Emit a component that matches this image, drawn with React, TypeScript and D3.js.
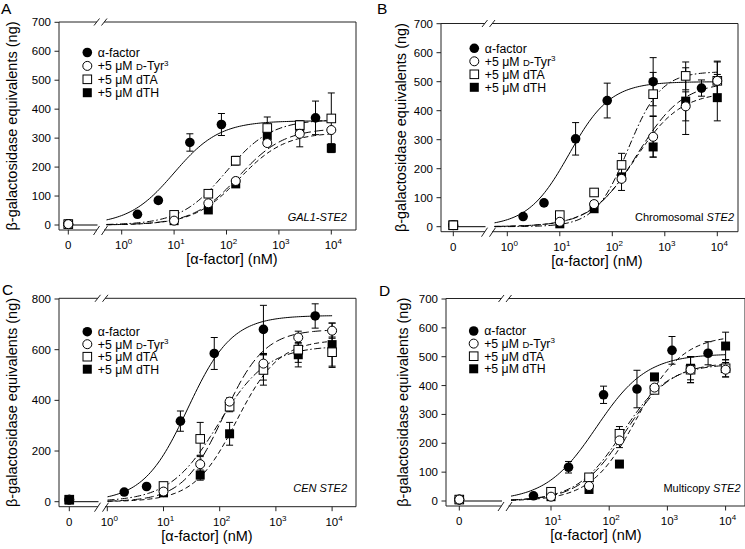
import React from "react";
import * as d3 from "d3";

// ---------- DATA ----------
const CONC_ANTAG = [0, 10, 45, 150, 600, 2500, 10000];

// Panel A (GAL1-STE2)
const A_ALPHA_X = [0, 2, 5, 20, 80, 5000];
const A_ALPHA_Y = [3, 37, 85, 285, 347, 370];
const A_ALPHA_E = [0, 0, 10, 30, 38, 58];
const A_DTYR_Y = [3, 15, 75, 152, 283, 315, 328];
const A_DTYR_E = [0, 0, 0, 10, 10, 45, 0];
const A_DTA_Y = [3, 35, 108, 222, 335, 345, 368];
const A_DTA_E = [0, 0, 8, 15, 38, 15, 88];
const A_DTH_Y = [3, 15, 52, 142, 308, 338, 265];
const A_DTH_E = [0, 0, 0, 8, 15, 15, 15];
// fit parameters [top, EC50, hill]
const A_FITS = [[360, 10, 1], [335, 170, 1], [365, 97, 1], [320, 175, 1]];

// Panel B (Chromosomal STE2)
const B_ALPHA_X = [0, 2, 5, 20, 80, 600, 5000];
const B_ALPHA_Y = [5, 35, 82, 303, 435, 500, 478];
const B_ALPHA_E = [0, 0, 8, 56, 60, 83, 28];
const B_DTYR_Y = [5, 17, 78, 165, 310, 415, 503];
const B_DTYR_E = [0, 0, 10, 40, 70, 50, 65];
const B_DTA_Y = [5, 40, 118, 213, 457, 520, 503];
const B_DTA_E = [0, 5, 12, 40, 75, 48, 68];
const B_DTH_Y = [5, 10, 62, 172, 275, 433, 445];
const B_DTH_E = [0, 0, 8, 10, 35, 115, 80];
const B_FITS = [[500, 15, 1.1], [500, 300, 1], [535, 200, 1.4], [465, 270, 1]];

// Panel C (CEN STE2)
const C_ALPHA_X = [0, 2, 5, 20, 80, 600, 5000];
const C_ALPHA_Y = [8, 38, 60, 318, 585, 680, 733];
const C_ALPHA_E = [0, 0, 0, 40, 63, 95, 48];
const C_DTYR_Y = [8, 40, 148, 395, 545, 648, 675];
const C_DTYR_E = [0, 0, 30, 15, 40, 25, 30];
const C_DTA_Y = [8, 62, 248, 375, 520, 600, 590];
const C_DTA_E = [0, 0, 65, 20, 60, 50, 60];
const C_DTH_Y = [8, 35, 105, 268, 530, 580, 620];
const C_DTH_E = [0, 0, 20, 45, 50, 48, 85];
const C_FITS = [[735, 27, 1.1], [680, 118, 1.2], [615, 95, 1], [640, 200, 1.15]];

// Panel D (Multicopy STE2)
const D_ALPHA_X = [0, 5, 20, 80, 300, 1200, 5000];
const D_ALPHA_Y = [5, 18, 117, 368, 388, 522, 512];
const D_ALPHA_E = [0, 0, 20, 30, 65, 48, 40];
const D_DTYR_Y = [5, 15, 52, 210, 393, 455, 455];
const D_DTYR_E = [0, 0, 0, 25, 10, 45, 25];
const D_DTA_Y = [5, 32, 82, 233, 385, 455, 460];
const D_DTA_E = [0, 0, 0, 25, 10, 45, 30];
const D_DTH_Y = [5, 15, 40, 128, 430, 460, 537];
const D_DTH_E = [0, 0, 0, 10, 10, 40, 48];
const D_FITS = [[510, 60, 1], [480, 190, 1.1], [475, 170, 1.1], [575, 300, 1.1]];

const LEGEND_LABELS = ["α-factor", "+5 μM D-Tyr3", "+5 μM dTA", "+5 μM dTH"];
const Y_TITLE = "β-galactosidase equivalents (ng)";
const X_TITLE = "[α-factor] (nM)";

// ---------- LAYOUT ----------
const FONT = "'Liberation Sans', Arial, Helvetica, sans-serif";
const MARKERS = ["filledCircle", "openCircle", "openSquare", "filledSquare"];
const DASHES = [null, "9,3.5", "7,2.5,1.5,2.5", "5,3"];

type PanelCfg = any;

const PANELS: PanelCfg[] = [
  {
    letter: "A", lx: 1, ly: 14,
    left: 59, right: 356, top: 22, bottom: 230,
    y0px: 225, yRefVal: 700, yRefPx: 22.3, yTicks: d3.range(0, 701, 100),
    dec0: 121.7, decW: 52.4, xTicks: [1, 10, 100, 1000, 10000],
    zeroX: 68.3, breakX: 100.5,
    legX: 87.3, legY: 52.5, legStep: 13.4,
    yTitleX: 12, xTitleX: 232, annot: [["GAL1-STE2", true]], annotX: 347, annotY: 221,
    zeroTop: 1,
    alpha: [A_ALPHA_X, A_ALPHA_Y, A_ALPHA_E],
    series: [[A_DTYR_Y, A_DTYR_E], [A_DTA_Y, A_DTA_E], [A_DTH_Y, A_DTH_E]],
    fits: A_FITS,
  },
  {
    letter: "B", lx: 377, ly: 14,
    left: 441, right: 738, top: 23.5, bottom: 231.7,
    y0px: 226.7, yRefVal: 700, yRefPx: 23.7, yTicks: d3.range(0, 701, 100),
    dec0: 507.3, decW: 52.5, xTicks: [1, 10, 100, 1000, 10000],
    zeroX: 453.3, breakX: 488.5,
    legX: 474.3, legY: 48.3, legStep: 13,
    yTitleX: 401, xTitleX: 597, annot: [["Chromosomal ", false], ["STE2", true]], annotX: 734, annotY: 221,
    zeroTop: 2,
    alpha: [B_ALPHA_X, B_ALPHA_Y, B_ALPHA_E],
    series: [[B_DTYR_Y, B_DTYR_E], [B_DTA_Y, B_DTA_E], [B_DTH_Y, B_DTH_E]],
    fits: B_FITS,
  },
  {
    letter: "C", lx: 2, ly: 295,
    left: 59, right: 356, top: 298.3, bottom: 506.7,
    y0px: 501.7, yRefVal: 800, yRefPx: 299, yTicks: d3.range(0, 801, 200),
    dec0: 107.3, decW: 56.2, xTicks: [1, 10, 100, 1000, 10000],
    zeroX: 69.3, breakX: 101.5,
    legX: 87.3, legY: 331.7, legStep: 12.5,
    yTitleX: 12, xTitleX: 207, annot: [["CEN STE2", true]], annotX: 347, annotY: 492,
    zeroTop: 3,
    alpha: [C_ALPHA_X, C_ALPHA_Y, C_ALPHA_E],
    series: [[C_DTYR_Y, C_DTYR_E], [C_DTA_Y, C_DTA_E], [C_DTH_Y, C_DTH_E]],
    fits: C_FITS,
  },
  {
    letter: "D", lx: 379, ly: 296,
    left: 446, right: 745, top: 298.5, bottom: 506,
    y0px: 501, yRefVal: 700, yRefPx: 299, yTicks: d3.range(0, 701, 100),
    dec0: 492.8, decW: 58.2, xTicks: [10, 100, 1000, 10000],
    zeroX: 459.3, breakX: 505,
    legX: 473.7, legY: 331, legStep: 12.6,
    yTitleX: 403, xTitleX: 596, annot: [["Multicopy ", false], ["STE2", true]], annotX: 740.5, annotY: 492,
    zeroTop: 1,
    alpha: [D_ALPHA_X, D_ALPHA_Y, D_ALPHA_E],
    series: [[D_DTYR_Y, D_DTYR_E], [D_DTA_Y, D_DTA_E], [D_DTH_Y, D_DTH_E]],
    fits: D_FITS,
  },
];

function Marker({ kind, x, y }: { kind: string; x: number; y: number }) {
  if (kind === "filledCircle") return <circle cx={x} cy={y} r={4.8} fill="#000" />;
  if (kind === "openCircle") return <circle cx={x} cy={y} r={4.5} fill="#fff" stroke="#000" strokeWidth={1} />;
  if (kind === "openSquare") return <rect x={x - 4.3} y={y - 4.3} width={8.6} height={8.6} fill="#fff" stroke="#000" strokeWidth={1} />;
  return <rect x={x - 4.5} y={y - 4.5} width={9} height={9} fill="#000" />;
}

function Panel({ cfg }: { cfg: PanelCfg }) {
  const y = d3.scaleLinear().domain([0, cfg.yRefVal]).range([cfg.y0px, cfg.yRefPx]);
  const xl = d3.scaleLog().domain([1, 10000]).range([cfg.dec0, cfg.dec0 + 4 * cfg.decW]);
  const xOf = (v: number) => (v === 0 ? cfg.zeroX : xl(v));
  const b = cfg.breakX;
  const gap = 3.5;

  const all = [
    cfg.alpha,
    [CONC_ANTAG, cfg.series[0][0], cfg.series[0][1]],
    [CONC_ANTAG, cfg.series[1][0], cfg.series[1][1]],
    [CONC_ANTAG, cfg.series[2][0], cfg.series[2][1]],
  ];
  const drawOrder = [0, 3, 2, 1];

  const cStart = xl.invert(b + 6);
  const curves = cfg.fits.map((f: number[], i: number) => {
    const [top, ec, n] = f;
    const lo = Math.log10(cStart), hi = 4;
    const pts = d3.range(0, 121).map((k) => {
      const xv = Math.pow(10, lo + (hi - lo) * (k / 120));
      return [xl(xv), y(top / (1 + Math.pow(ec / xv, n)))] as [number, number];
    });
    return { d: d3.line()(pts)!, dash: DASHES[i] };
  });

  const tickLen = 4.5;
  const textStyle = { fontFamily: FONT, fill: "#000" } as any;

  return (
    <g>
      <text x={cfg.lx} y={cfg.ly} fontSize={15.5} style={textStyle}>{cfg.letter}</text>

      <g stroke="#222" strokeWidth={1} fill="none">
        <line x1={cfg.left} y1={cfg.top} x2={cfg.left} y2={cfg.bottom} />
        <line x1={cfg.right} y1={cfg.top} x2={cfg.right} y2={cfg.bottom} />
        <line x1={cfg.left} y1={cfg.top} x2={b - gap} y2={cfg.top} />
        <line x1={b + gap} y1={cfg.top} x2={cfg.right} y2={cfg.top} />
        <line x1={cfg.left} y1={cfg.bottom} x2={b - gap} y2={cfg.bottom} />
        <line x1={b + gap} y1={cfg.bottom} x2={cfg.right} y2={cfg.bottom} />
        <line x1={b - 6.5} y1={cfg.top + 3.5} x2={b - 1} y2={cfg.top - 3.5} />
        <line x1={b + 1} y1={cfg.top + 3.5} x2={b + 6.5} y2={cfg.top - 3.5} />
        <line x1={b - 7} y1={cfg.bottom + 5} x2={b - 1} y2={cfg.bottom - 4} />
        <line x1={b + 1} y1={cfg.bottom + 5} x2={b + 7} y2={cfg.bottom - 4} />
      </g>

      {cfg.yTicks.map((t: number) => (
        <g key={"yt" + t}>
          <line x1={cfg.left - tickLen} x2={cfg.left} y1={y(t)} y2={y(t)} stroke="#222" strokeWidth={1} />
          <text x={cfg.left - 8} y={y(t) + 4} textAnchor="end" fontSize={11.5} style={textStyle}>{t}</text>
        </g>
      ))}

      <line x1={cfg.zeroX} x2={cfg.zeroX} y1={cfg.bottom} y2={cfg.bottom + tickLen} stroke="#222" strokeWidth={1} />
      <text x={cfg.zeroX} y={cfg.bottom + 19} textAnchor="middle" fontSize={11.5} style={textStyle}>0</text>
      {cfg.xTicks.map((t: number) => (
        <g key={"xt" + t}>
          <line x1={xl(t)} x2={xl(t)} y1={cfg.bottom} y2={cfg.bottom + tickLen} stroke="#222" strokeWidth={1} />
          <text x={xl(t) + 2} y={cfg.bottom + 19} textAnchor="middle" fontSize={11.5} style={textStyle}>
            10<tspan dy={-5} fontSize={8}>{Math.round(Math.log10(t))}</tspan>
          </text>
        </g>
      ))}

      <text
        transform={`translate(${cfg.yTitleX + 5},${(cfg.top + cfg.bottom) / 2}) rotate(-90)`}
        textAnchor="middle" fontSize={14.5} style={textStyle}
      >{Y_TITLE}</text>
      <text x={cfg.xTitleX} y={cfg.bottom + 34} textAnchor="middle" fontSize={14.5} style={textStyle}>{X_TITLE}</text>

      <text x={cfg.annotX} y={cfg.annotY} textAnchor="end" fontSize={11} style={textStyle}>
        {cfg.annot.map((p: any, i: number) => (
          <tspan key={i} fontStyle={p[1] ? "italic" : "normal"}>{p[0]}</tspan>
        ))}
      </text>

      <line x1={cfg.zeroX} x2={b - 3} y1={y(0)} y2={y(0)} stroke="#000" strokeWidth={1} />

      {curves.map((c: any, i: number) => (
        <path key={"c" + i} d={c.d} fill="none" stroke="#000" strokeWidth={1}
          strokeDasharray={c.dash || undefined} />
      ))}

      {drawOrder.map((si) => {
        const [xs, ys, es] = all[si];
        return xs.map((xv: number, k: number) => {
          const e = es[k];
          if (!e) return null;
          const px = xOf(xv);
          const yt = y(ys[k] + e), yb = y(ys[k] - e);
          return (
            <g key={"e" + si + "-" + k} stroke="#000" strokeWidth={1}>
              <line x1={px} x2={px} y1={yt} y2={yb} />
              <line x1={px - 3.5} x2={px + 3.5} y1={yt} y2={yt} />
              <line x1={px - 3.5} x2={px + 3.5} y1={yb} y2={yb} />
            </g>
          );
        });
      })}

      {drawOrder.map((si) => {
        const [xs, ys] = all[si];
        return xs.map((xv: number, k: number) => (
          <Marker key={"m" + si + "-" + k} kind={MARKERS[si]} x={xOf(xv)} y={y(ys[k])} />
        ));
      })}
      {(() => {
        const [xs, ys] = all[cfg.zeroTop];
        return <Marker kind={MARKERS[cfg.zeroTop]} x={xOf(xs[0])} y={y(ys[0])} />;
      })()}

      {LEGEND_LABELS.map((lab, i) => {
        const ly = cfg.legY + i * cfg.legStep;
        return (
          <g key={"l" + i}>
            <Marker kind={MARKERS[i]} x={cfg.legX} y={ly} />
            <text x={cfg.legX + 10.5} y={ly + 4.3} fontSize={12.3} style={textStyle}>
              {i === 1 ? (
                <>
                  {"+5 μM "}
                  <tspan fontSize={9.5}>D</tspan>
                  {"-Tyr"}
                  <tspan dy={-4.5} fontSize={8}>3</tspan>
                </>
              ) : lab}
            </text>
          </g>
        );
      })}
    </g>
  );
}

export default function App() {
  return (
    <svg width={745} height={549} viewBox="0 0 745 549"
      style={{ position: "absolute", left: 0, top: 0, background: "#fff" }}>
      <rect x={0} y={0} width={745} height={549} fill="#fff" />
      {PANELS.map((p) => <Panel key={p.letter} cfg={p} />)}
    </svg>
  );
}
